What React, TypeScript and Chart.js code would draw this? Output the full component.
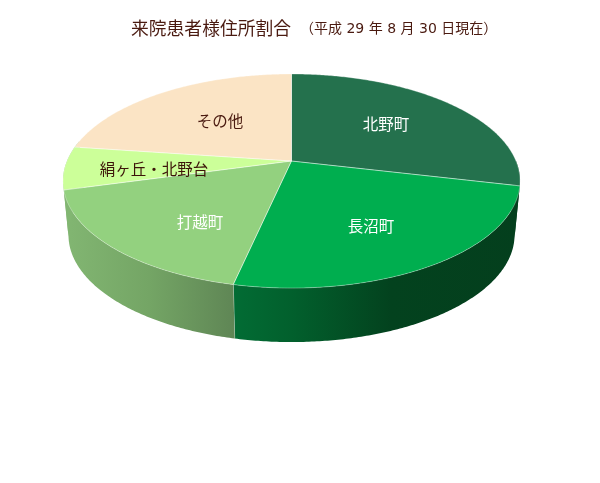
import React, { useEffect, useRef } from "react";
import { Chart, registerables } from "chart.js";

Chart.register(...registerables);

const categories = ["北野町", "長沼町", "打越町", "絹ヶ丘・北野台", "その他"];
const shares = [28.7, 24.7, 17.3, 6.5, 22.8];
const sliceColors = ["#24714d", "#00ae4f", "#93d17f", "#ccff99", "#fbe4c5"];
const labelColors = ["#ffffff", "#ffffff", "#ffffff", "#3c1408", "#4a1a10"];
const labelCentres = [[386, 124], [371, 226], [200, 222], [154, 169], [220, 121]];
const titleMain = "来院患者様住所割合";
const titleSub = "（平成 29 年 8 月 30 日現在）";

const FONT = '"Noto Sans CJK JP", "Noto Sans", sans-serif';
const SUB_FONT = '"DejaVu Sans", "Noto Sans CJK JP", sans-serif';
const APEX = { x: 291.5, y: 161 };
const PERSP = 0.187;
const RX = 224.5;
const RY = 103.3;
const DEPTH = 54;
const BOTTOM_SCALE = 0.976;

function rim(theta: number, lower = false) {
  const u = Math.sin(theta);
  const v = -Math.cos(theta);
  const w = 1 - PERSP * v;
  const s = lower ? BOTTOM_SCALE : 1;
  return {
    x: APEX.x + (RX * u * s) / w,
    y: APEX.y + (RY * v) / w + (lower ? DEPTH : 0),
  };
}

function sample(a: number, b: number) {
  const n = Math.max(2, Math.ceil(Math.abs(b - a) / 0.01));
  const out: number[] = [];
  for (let i = 0; i <= n; i++) out.push(a + ((b - a) * i) / n);
  return out;
}

const sideStops: Record<number, [number, number, [number, string][]]> = {
  0: [500, 520, [[0, "#04421e"], [1, "#04421e"]]],
  1: [234, 520, [[0, "#026c34"], [0.2, "#02602d"], [0.55, "#03421e"], [1, "#043f1d"]]],
  2: [65, 234, [[0, "#82b672"], [0.5, "#74a565"], [1, "#5f8655"]]],
  3: [60, 72, [[0, "#82b672"], [1, "#82b672"]]],
  4: [60, 72, [[0, "#82b672"], [1, "#82b672"]]],
};

const pie3d = {
  id: "pie3d",
  beforeDatasetDraw(chart: any, args: any) {
    const ctx: CanvasRenderingContext2D = chart.ctx;
    const arcs = args.meta.data;
    const toTheta = (a: number) => a + Math.PI / 2;
    const frontA = Math.PI * 0.5;
    const frontB = Math.PI * 1.5 + 0.2;

    arcs.forEach((arc: any, i: number) => {
      const a = Math.max(toTheta(arc.startAngle), frontA);
      const b = Math.min(toTheta(arc.endAngle), frontB);
      if (b <= a) return;
      const [x0, x1, stops] = sideStops[i];
      const g = ctx.createLinearGradient(x0, 0, x1, 0);
      stops.forEach(([p, c]) => g.addColorStop(p, c));
      ctx.beginPath();
      sample(a, b).forEach((t, k) => {
        const p = rim(t);
        if (k === 0) ctx.moveTo(p.x, p.y);
        else ctx.lineTo(p.x, p.y);
      });
      sample(b, a).forEach((t) => {
        const p = rim(t, true);
        ctx.lineTo(p.x, p.y);
      });
      ctx.closePath();
      ctx.fillStyle = g;
      ctx.fill();
      if (toTheta(arc.endAngle) <= frontB && i === 1) {
        const top = rim(b);
        const bot = rim(b, true);
        ctx.beginPath();
        ctx.moveTo(top.x, top.y);
        ctx.lineTo(bot.x, bot.y);
        ctx.strokeStyle = "rgba(255,255,255,0.55)";
        ctx.lineWidth = 1;
        ctx.stroke();
      }
    });

    arcs.forEach((arc: any) => {
      ctx.beginPath();
      ctx.moveTo(APEX.x, APEX.y);
      sample(toTheta(arc.startAngle), toTheta(arc.endAngle)).forEach((t) => {
        const p = rim(t);
        ctx.lineTo(p.x, p.y);
      });
      ctx.closePath();
      ctx.fillStyle = arc.options.backgroundColor;
      ctx.fill();
    });

    arcs.forEach((arc: any) => {
      ctx.beginPath();
      ctx.moveTo(APEX.x, APEX.y);
      sample(toTheta(arc.startAngle), toTheta(arc.endAngle)).forEach((t) => {
        const p = rim(t);
        ctx.lineTo(p.x, p.y);
      });
      ctx.closePath();
      ctx.strokeStyle = "rgba(255,255,255,0.4)";
      ctx.lineWidth = 0.8;
      ctx.stroke();
    });
    return false;
  },
  afterDraw(chart: any) {
    const ctx: CanvasRenderingContext2D = chart.ctx;
    ctx.save();
    ctx.textBaseline = "middle";
    ctx.textAlign = "center";
    ctx.font = `400 15.5px ${FONT}`;
    categories.forEach((name, i) => {
      ctx.fillStyle = labelColors[i];
      ctx.fillText(name, labelCentres[i][0], labelCentres[i][1]);
    });
    ctx.textAlign = "left";
    ctx.fillStyle = "#4a1a10";
    ctx.font = `400 17.8px ${FONT}`;
    ctx.fillText(titleMain, 131, 28);
    ctx.font = `400 14px ${SUB_FONT}`;
    ctx.fillText(titleSub, 300, 29);
    ctx.restore();
  },
};

export default function App() {
  const ref = useRef<HTMLCanvasElement>(null);
  useEffect(() => {
    document.body.style.margin = "0";
    document.body.style.background = "#ffffff";
    const chart = new Chart(ref.current!, {
      type: "pie",
      data: {
        labels: categories,
        datasets: [{ data: shares, backgroundColor: sliceColors, borderWidth: 0 }],
      },
      options: {
        animation: false,
        responsive: false,
        plugins: { legend: { display: false }, tooltip: { enabled: false } },
      },
      plugins: [pie3d],
    } as any);
    return () => chart.destroy();
  }, []);
  return <canvas ref={ref} width={600} height={483} style={{ display: "block" }} />;
}
